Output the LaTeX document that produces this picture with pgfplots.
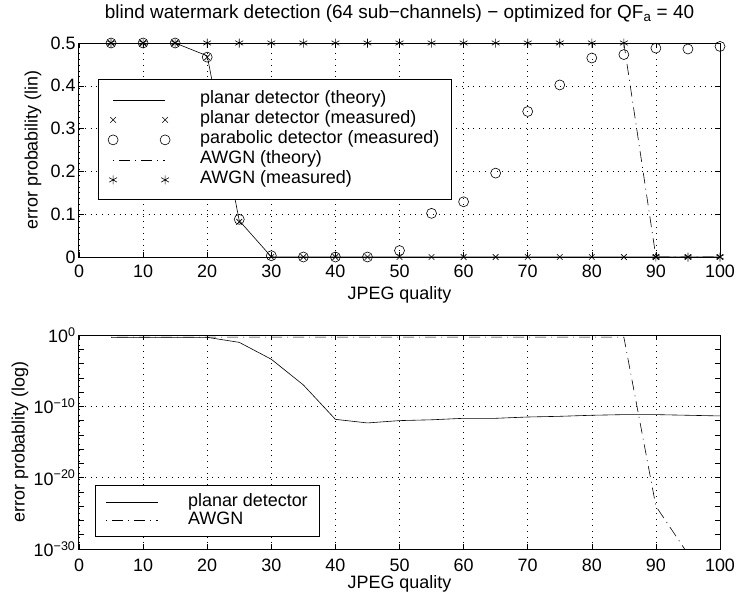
\documentclass[border=0pt]{standalone}
\usepackage{fontspec}
\setmainfont{Liberation Sans}
\usepackage{pgfplots}
\pgfplotsset{compat=1.18}

\newcommand{\fs}{\fontsize{18}{20}\selectfont}

\pgfplotsset{
  mlab/.style={
    scale only axis, width=641bp, height=214bp,
    xmin=0, xmax=100, xtick={0,10,...,100},
    tick align=inside, xtick pos=both, ytick pos=both,
    xticklabel pos=lower, yticklabel pos=left,
    major tick length=5bp, minor tick length=5bp,
    grid=major,
    major grid style={black, line width=0.5bp, dash pattern=on 0.8bp off 5bp},
    axis line style={line width=1bp},
    every tick/.style={black, line width=0.6bp},
    /pgf/number format/assume math mode=true,
    tick label style={font=\fs},
    xticklabel style={yshift=-4bp},
    every axis x label/.style={at={(axis description cs:0.5,0)}, anchor=center, font=\fs},
    every axis y label/.style={rotate=90, anchor=center, font=\fs},
    legend cell align=left,
    legend style={font=\fs, draw=black, line width=1bp, fill=white,
      column sep=28bp, inner xsep=10bp},
    legend image code/.code={\draw[#1] plot coordinates {(0bp,0bp) (52bp,0bp)};},
  },
  dashdotml/.style={black, line width=0.6bp, dash pattern=on 1bp off 5bp on 11bp off 5bp},
}

\begin{document}
\begin{tikzpicture}
\useasboundingbox (-79bp,-343bp) rectangle (660bp,257bp);

% linear scale
\begin{axis}[mlab,
  at={(0,0)}, anchor=south west,
  ymin=0, ymax=0.5, ytick={0,0.1,...,0.5},
  /pgf/number format/fixed,
  xlabel={JPEG quality},
  every axis x label/.append style={yshift=-38bp},
  ylabel={error probability (lin)},
  every axis y label/.append style={at={(axis description cs:-0.0718,0.5)}},
  title={blind watermark detection (64 sub−channels) − optimized for QF\textsubscript{a} = 40},
  every axis title/.style={at={(axis description cs:0.5,1)}, anchor=center, yshift=29bp,
    font=\fontsize{19}{21}\selectfont},
  legend style={at={(axis description cs:0.029,0.83)}, anchor=north west,
    inner ysep=10bp, nodes={inner sep=2bp, text height=12bp, text depth=4bp}},
]
\addplot[black, line width=0.6bp] coordinates {
  (5,0.5) (10,0.5) (15,0.5) (20,0.47) (25,0.085) (30,0.0005) (35,0) (40,0) (45,0)
  (50,0) (55,0) (60,0) (65,0) (70,0) (75,0) (80,0) (85,0) (90,0) (95,0) (100,0)};
\addlegendentry{planar detector (theory)}
\addplot[black, only marks, mark=x, mark size=4bp, line width=0.6bp] coordinates {
  (5,0.5) (10,0.5) (15,0.5) (20,0.467) (25,0.082) (30,0) (35,0) (40,0) (45,0)
  (50,0) (55,0) (60,0) (65,0) (70,0) (75,0) (80,0) (85,0) (90,0) (95,0) (100,0)};
\addlegendentry{planar detector (measured)}
\addplot[black, only marks, mark=o, mark size=5bp, line width=0.6bp] coordinates {
  (5,0.5) (10,0.5) (15,0.5) (20,0.467) (25,0.088) (30,0.003) (35,0) (40,0) (45,0)
  (50,0.015) (55,0.102) (60,0.129) (65,0.196) (70,0.34) (75,0.402) (80,0.465)
  (85,0.473) (90,0.488) (95,0.486) (100,0.492)};
\addlegendentry{parabolic detector (measured)}
\addplot[dashdotml] coordinates {
  (5,0.5) (10,0.5) (15,0.5) (20,0.5) (25,0.5) (30,0.5) (35,0.5) (40,0.5) (45,0.5)
  (50,0.5) (55,0.5) (60,0.5) (65,0.5) (70,0.5) (75,0.5) (80,0.5) (85,0.5)
  (90,0) (95,0) (100,0)};
\addlegendentry{AWGN (theory)}
\addplot[black, only marks, mark=asterisk, mark size=4.5bp, line width=0.6bp] coordinates {
  (5,0.5) (10,0.5) (15,0.5) (20,0.5) (25,0.5) (30,0.5) (35,0.5) (40,0.5) (45,0.5)
  (50,0.5) (55,0.5) (60,0.5) (65,0.5) (70,0.5) (75,0.5) (80,0.5) (85,0.5)
  (90,0) (95,0) (100,0)};
\addlegendentry{AWGN (measured)}
\end{axis}

% log scale
\begin{axis}[mlab,
  at={(0,-292bp)}, anchor=south west,
  ymode=log, ymin=1e-30, ymax=1,
  ytick={1,1e-10,1e-20,1e-30},
  yticklabels={10\textsuperscript{0},10\textsuperscript{−10},10\textsuperscript{−20},10\textsuperscript{−30}},
  minor ytick={1e-2,1e-4,1e-6,1e-8,1e-12,1e-14,1e-16,1e-18,1e-22,1e-24,1e-26,1e-28},
  xticklabel style={yshift=-2bp},
  xlabel={JPEG quality},
  every axis x label/.append style={yshift=-35bp},
  ylabel={error probablity (log)},
  every axis y label/.append style={at={(axis description cs:-0.092,0.5)}},
  legend style={at={(axis description cs:0.025,0.056)}, anchor=south west,
    inner ysep=8bp, nodes={inner sep=2bp, text height=11bp, text depth=2.3bp}},
]
\addplot[black, line width=0.6bp] coordinates {
  (5,0.47) (10,0.47) (15,0.47) (20,0.47) (25,0.093) (30,4e-4) (35,1e-7)
  (40,1.5e-12) (45,4.7e-13) (50,1e-12) (55,1.3e-12) (60,2.1e-12) (65,2.1e-12)
  (70,3.2e-12) (75,4e-12) (80,5.6e-12) (85,6.9e-12) (90,6.9e-12) (95,5.6e-12)
  (100,4.5e-12)};
\addlegendentry{planar detector}
\addplot[dashdotml] coordinates {
  (5,0.5) (10,0.5) (15,0.5) (20,0.5) (25,0.5) (30,0.5) (35,0.5) (40,0.5) (45,0.5)
  (50,0.5) (55,0.5) (60,0.5) (65,0.5) (70,0.5) (75,0.5) (80,0.5) (85,0.5)
  (90,1e-24) (95,2e-31)};
\addlegendentry{AWGN}
\end{axis}
\end{tikzpicture}
\end{document}
